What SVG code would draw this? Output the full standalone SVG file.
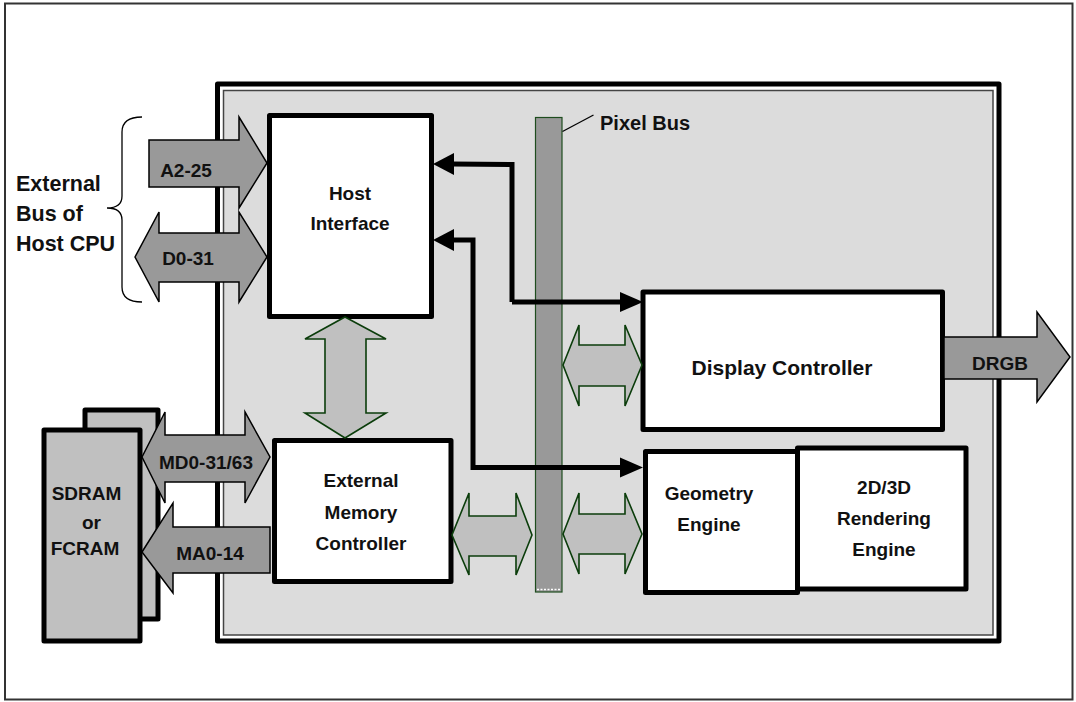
<svg xmlns="http://www.w3.org/2000/svg" width="1076" height="702" viewBox="0 0 1076 702">
<defs>
<style>
text{font-family:"Liberation Sans",Arial,sans-serif;font-weight:bold;fill:#111;}
.lbl{font-size:19px;text-anchor:middle;}
.big{font-size:21px;}
.box{fill:#fff;stroke:#000;stroke-width:5;stroke-linejoin:round;}
.bus{fill:#999;stroke:#000;stroke-width:1.5;stroke-linejoin:miter;}
.dbl{fill:#c0c0c0;stroke:#0b3d0b;stroke-width:1.6;stroke-linejoin:miter;}
.conn{fill:none;stroke:#000;stroke-width:5;}
.head{fill:#000;}
</style>
</defs>
<rect width="1076" height="702" fill="#fff"/>
<rect x="5" y="3.5" width="1067.5" height="696" fill="#fff" stroke="#333" stroke-width="2"/>

<g id="chip">
<rect x="217.5" y="84" width="781.5" height="557" fill="#fff" stroke="#000" stroke-width="5" stroke-linejoin="round"/>
<rect x="223.5" y="90.5" width="769.5" height="544.5" fill="#dcdcdc" stroke="#444" stroke-width="1.5"/>
</g>

<g id="external-bus-label">
<path d="M142,117 Q122,117 122,132 L122,196 Q122,208 107,208 Q122,208 122,220 L122,287 Q122,302 142,302" fill="none" stroke="#000" stroke-width="1.3"/>
<text x="16" y="191" font-size="21.5">External</text>
<text x="16" y="221" font-size="21.5">Bus of</text>
<text x="16" y="251" font-size="21.5">Host CPU</text>
</g>

<g id="pixel-bus">
<rect x="535.5" y="117.5" width="26.5" height="474.5" fill="#999" stroke="#1e4d1e" stroke-width="1.2"/>
<line x1="537" y1="589.5" x2="560" y2="589.5" stroke="#fff" stroke-width="1.5" stroke-dasharray="2 1.5"/>
<line x1="562.5" y1="131.5" x2="593.5" y2="115" stroke="#000" stroke-width="1.3"/>
<text x="600" y="130" font-size="20">Pixel Bus</text>
</g>

<g id="sdram">
<rect x="85" y="410" width="73" height="209" fill="#c0c0c0" stroke="#000" stroke-width="5" stroke-linejoin="round"/>
<rect x="44" y="430" width="96" height="211" fill="#c0c0c0" stroke="#000" stroke-width="5" stroke-linejoin="round"/>
<text class="lbl" x="86.5" y="500">SDRAM</text>
<text class="lbl" x="91.5" y="529">or</text>
<text class="lbl" x="85" y="555">FCRAM</text>
</g>

<g id="host-interface">
<rect class="box" x="269.5" y="115.5" width="162" height="201"/>
<text class="lbl" x="350" y="200">Host</text>
<text class="lbl" x="350" y="230">Interface</text>
</g>

<g id="external-memory-controller">
<rect class="box" x="274.5" y="440.5" width="176.5" height="141"/>
<text class="lbl" x="361" y="487">External</text>
<text class="lbl" x="361" y="519">Memory</text>
<text class="lbl" x="361" y="550">Controller</text>
</g>

<g id="display-controller">
<rect class="box" x="643" y="292" width="299.5" height="137.5"/>
<text class="lbl big" x="782" y="375">Display Controller</text>
</g>

<g id="geometry-engine">
<rect class="box" x="645.5" y="451.5" width="152" height="141"/>
<text class="lbl" x="709" y="500">Geometry</text>
<text class="lbl" x="709" y="531">Engine</text>
</g>

<g id="rendering-engine">
<rect class="box" x="797.5" y="448" width="168.5" height="141"/>
<text class="lbl" x="884" y="494">2D/3D</text>
<text class="lbl" x="884" y="525">Rendering</text>
<text class="lbl" x="884" y="556">Engine</text>
</g>

<g id="connectors">
<polygon class="bus" points="149,140 239,140 239,117 267,163 239,208 239,187 149,187"/>
<text class="lbl" x="186" y="177">A2-25</text>
<polygon class="bus" points="135,257 159,212 159,233 239,233 239,212 267,257 239,302 239,282 159,282 159,302"/>
<text class="lbl" x="188" y="265">D0-31</text>
<polygon class="bus" points="142,457 165,412 165,435 245,435 245,412 270,457 245,503 245,482 165,482 165,503"/>
<text class="lbl" x="206" y="469">MD0-31/63</text>
<polygon class="bus" points="142,552 173,503 173,527 270,527 270,573 173,573 173,593"/>
<text class="lbl" x="210" y="560">MA0-14</text>
<polygon class="bus" points="944,337 1037,337 1037,312 1070,357 1037,402 1037,379 944,379"/>
<text class="lbl" x="1000" y="370">DRGB</text>

<polygon class="dbl" points="345,317 386,339 366,339 366,413 386,413 345,438 305,413 325,413 325,339 305,339"/>
<polygon class="dbl" points="452,535 469,493 469,516 516,516 516,493 532,535 516,575 516,556 469,556 469,575"/>
<polygon class="dbl" points="563,534 579,493 579,514 625,514 625,493 642,534 625,574 625,554 579,554 579,574"/>
<polygon class="dbl" points="563,365 579,325 579,345 625,345 625,325 642,365 625,406 625,386 579,386 579,406"/>

<path class="conn" d="M512,302 L512,164.5 L452,164"/>
<path class="conn" d="M512,302 L624,302"/>
<polygon class="head" points="433,164 454,153 454,175"/>
<polygon class="head" points="643,302 620,292 620,312"/>
<path class="conn" d="M452,240 L473,240 L473,467.5 L624,467.5"/>
<polygon class="head" points="433,240 454,229 454,251"/>
<polygon class="head" points="643,467.5 620,457.5 620,477.5"/>
</g>
</svg>
